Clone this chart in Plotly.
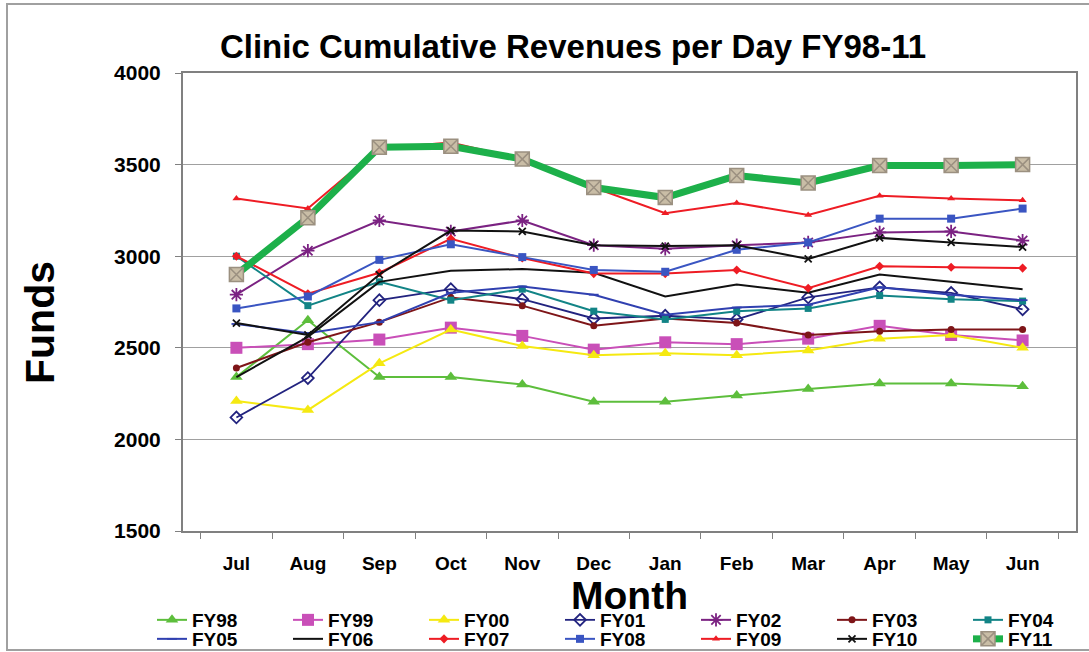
import plotly.graph_objects as go

months = ["Jul", "Aug", "Sep", "Oct", "Nov", "Dec", "Jan", "Feb", "Mar", "Apr", "May", "Jun"]

fy98 = [2340, 2650, 2340, 2340, 2300, 2205, 2205, 2240, 2275, 2305, 2305, 2290]
fy99 = [2500, 2520, 2545, 2610, 2565, 2490, 2530, 2520, 2550, 2620, 2570, 2540]
fy00 = [2210, 2160, 2415, 2600, 2510, 2460, 2470, 2460, 2485, 2550, 2570, 2500]
fy01 = [2120, 2335, 2760, 2820, 2765, 2660, 2675, 2655, 2775, 2830, 2800, 2710]
fy02 = [2790, 3030, 3195, 3135, 3195, 3060, 3040, 3060, 3075, 3130, 3135, 3085]
fy03 = [2390, 2530, 2640, 2775, 2730, 2620, 2660, 2635, 2570, 2590, 2600, 2600]
fy04 = [3000, 2730, 2860, 2760, 2820, 2700, 2655, 2700, 2715, 2785, 2765, 2755]
fy05 = [2630, 2580, 2640, 2800, 2835, 2790, 2680, 2720, 2735, 2830, 2790, 2760]
fy06 = [2340, 2560, 2860, 2920, 2930, 2910, 2780, 2845, 2800, 2900, 2860, 2820]
fy07 = [3000, 2795, 2910, 3095, 2990, 2905, 2905, 2925, 2825, 2945, 2940, 2935]
fy08 = [2715, 2780, 2980, 3065, 2995, 2925, 2915, 3035, 3075, 3205, 3205, 3260]
fy09 = [3315, 3260, 3590, 3620, 3530, 3375, 3235, 3290, 3225, 3330, 3315, 3305]
fy10 = [2635, 2570, 2900, 3140, 3135, 3060, 3055, 3060, 2985, 3100, 3075, 3050]
fy11 = [2900, 3210, 3595, 3600, 3530, 3375, 3320, 3440, 3400, 3495, 3495, 3500]

names = ["FY98", "FY99", "FY00", "FY01", "FY02", "FY03", "FY04",
         "FY05", "FY06", "FY07", "FY08", "FY09", "FY10", "FY11"]
series = [fy98, fy99, fy00, fy01, fy02, fy03, fy04,
          fy05, fy06, fy07, fy08, fy09, fy10, fy11]

styles = [
    dict(color="#5DBE3C", symbol="triangle-up", size=11, width=2),
    dict(color="#C94FB8", symbol="square", size=12, width=2),
    dict(color="#F5E911", symbol="triangle-up", size=11, width=2),
    dict(color="#22237F", symbol="diamond-open", size=9, width=1.8),
    dict(color="#7B2282", symbol="asterisk-open", size=11, width=2),
    dict(color="#7E1518", symbol="circle", size=7, width=2),
    dict(color="#128486", symbol="square", size=7, width=2),
    dict(color="#3040B0", symbol="line-ew-open", size=7, width=2),
    dict(color="#111111", symbol=None, size=0, width=2),
    dict(color="#EE1C24", symbol="diamond", size=7, width=2),
    dict(color="#3A55C2", symbol="square", size=8, width=2),
    dict(color="#EE1C24", symbol="triangle-up", size=7, width=2),
    dict(color="#111111", symbol="x-thin-open", size=7, width=2),
    dict(color="#1DB04A", symbol="square-x", size=14, width=7),
]

fig = go.Figure()
for i, (nm, ys, st) in enumerate(zip(names, series, styles)):
    legend = "legend" if i < 7 else "legend2"
    if st["symbol"] is None:
        mode = "lines"
        marker = None
    else:
        mode = "lines+markers"
        if st["symbol"] == "square-x":
            marker = dict(symbol="square-x", size=st["size"], color="#C9BDA6",
                          line=dict(color="#9B9080", width=1.5))
        elif st["symbol"].endswith("open"):
            marker = dict(symbol=st["symbol"], size=st["size"], color=st["color"],
                          line=dict(color=st["color"], width=1.8))
        else:
            marker = dict(symbol=st["symbol"], size=st["size"], color=st["color"],
                          line=dict(width=0))
    fig.add_trace(go.Scatter(
        x=months, y=ys, name=nm, mode=mode,
        line=dict(color=st["color"], width=st["width"]),
        marker=marker, legend=legend,
    ))

W, H = 1089, 652
L, R, T, B = 183, 13, 73, 121
pw, ph = W - L - R, H - T - B

def px_x(p):
    return (p - L) / pw

def px_y(p):
    return (H - B - p) / ph

font_family = "Liberation Sans, Arial, sans-serif"
legend_common = dict(
    orientation="h", xanchor="left", yanchor="middle",
    font=dict(family=font_family, size=19, color="#000000", weight="bold"),
    entrywidth=91, bgcolor="rgba(0,0,0,0)", borderwidth=0,
    itemwidth=30, tracegroupgap=0,
)

fig.update_layout(
    width=W, height=H,
    margin=dict(l=L, r=R, t=T, b=B, autoexpand=False),
    paper_bgcolor="white", plot_bgcolor="white",
    title=dict(text="<b>Clinic Cumulative Revenues per Day FY98-11</b>",
               x=px_x(573), xref="paper", xanchor="center",
               y=1 - 46 / H, yanchor="middle",
               font=dict(family=font_family, size=33, color="#000000")),
    legend=dict(x=px_x(152), y=px_y(620), **legend_common),
    legend2=dict(x=px_x(152), y=px_y(639), **legend_common),
    showlegend=True,
)

fig.update_xaxes(
    type="category", showgrid=False,
    showline=True, linecolor="#808080", linewidth=2, mirror=True,
    ticks="outside", ticklen=6, tickcolor="#808080", tickwidth=1,
    tickson="boundaries", ticklabelstandoff=14,
    tickfont=dict(family=font_family, size=19, color="#000000", weight="bold"),
    title=dict(text="<b>Month</b>", standoff=0,
               font=dict(family=font_family, size=39, color="#000000")),
)
fig.update_yaxes(
    range=[1500, 4000], dtick=500, tick0=1500,
    showgrid=True, gridcolor="#A0A0A0", gridwidth=1,
    showline=True, linecolor="#808080", linewidth=2, mirror=True,
    ticks="outside", ticklen=6, tickcolor="#808080", tickwidth=1,
    ticklabelstandoff=10,
    tickfont=dict(family=font_family, size=21, color="#000000", weight="bold"),
)

fig.add_annotation(text="<b>Funds</b>", textangle=-90, showarrow=False,
                   xref="paper", yref="paper", x=px_x(40), y=px_y(323),
                   xanchor="center", yanchor="middle",
                   font=dict(family=font_family, size=41, color="#000000"))

fig.add_shape(type="rect", xref="paper", yref="paper",
              x0=px_x(7), x1=px_x(1100), y0=px_y(650), y1=px_y(4),
              line=dict(color="#A0A0A0", width=2), layer="below")

fig.write_html("out.html", config={"displayModeBar": False},
               post_script="document.body.style.margin='0px';document.body.style.overflow='hidden';")
